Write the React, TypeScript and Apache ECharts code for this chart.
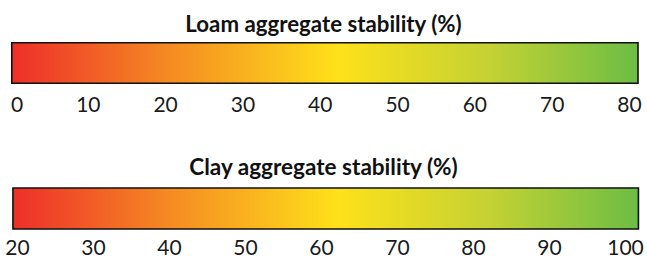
import React, { useEffect, useRef } from "react";
import * as echarts from "echarts";

const loamTitle = "Loam aggregate stability (%)";
const clayTitle = "Clay aggregate stability (%)";
const loamTicks = [0, 80];
const clayTicks = [20, 100];
const tickStep = 10;
// extent of the coloured bar, in axis units
const loamBar = [0.1, 81.1];
const clayBar = [19.4, 101.7];
const gradientStops = [
  { offset: 0, color: "#EE2E2A" },
  { offset: 0.25, color: "#F58A22" },
  { offset: 0.52, color: "#FEE11A" },
  { offset: 0.76, color: "#C5D233" },
  { offset: 1, color: "#6CBD45" },
];

const labelFont = "Lato, 'Open Sans', sans-serif";
const titleFontFamily = "Lato";
const titleFontSize = 22;

function measure(text: string, font: string): number {
  const c = document.createElement("canvas");
  const ctx = c.getContext("2d");
  if (!ctx) return 0;
  ctx.font = font;
  return ctx.measureText(text).width;
}

function barSeries(idx: number, range: number[]) {
  return {
    type: "custom",
    xAxisIndex: idx,
    yAxisIndex: idx,
    silent: true,
    data: [[range[0], range[1]]],
    renderItem: (params: any, api: any) => {
      const lo = api.value(0);
      const hi = api.value(1);
      const p1 = api.coord([lo, 1]);
      const p2 = api.coord([hi, 0]);
      return {
        type: "rect",
        shape: { x: p1[0], y: p1[1], width: p2[0] - p1[0], height: p2[1] - p1[1] },
        style: {
          fill: new echarts.graphic.LinearGradient(0, 0, 1, 0, gradientStops),
          stroke: "#111111",
          lineWidth: 1.6,
        },
      };
    },
  };
}

function xAxisOf(idx: number, ticks: number[], alignMin: boolean, margin: number) {
  return {
    type: "value",
    gridIndex: idx,
    min: ticks[0],
    max: ticks[1],
    interval: tickStep,
    axisLine: { show: false },
    axisTick: { show: false },
    splitLine: { show: false },
    axisLabel: {
      show: true,
      margin,
      fontSize: 21,
      lineHeight: 16,
      color: "#1a1a1a",
      fontFamily: labelFont,
      showMinLabel: true,
      showMaxLabel: true,
      ...(alignMin ? { alignMinLabel: "left" } : {}),
    },
  };
}

function titleText(text: string, y: number, targetWidth: number) {
  const font = `bold ${titleFontSize}px ${titleFontFamily}`;
  const w = measure(text, font);
  const sx = w > 0 ? targetWidth / w : 1;
  return {
    type: "text",
    x: 323.5,
    y,
    scaleX: sx,
    style: {
      text,
      fontFamily: titleFontFamily,
      fontSize: titleFontSize,
      fontWeight: "bold",
      fill: "#111111",
      textAlign: "center",
      textVerticalAlign: "middle",
    },
  };
}

export default function App() {
  const ref = useRef<HTMLDivElement>(null);
  useEffect(() => {
    if (!ref.current) return;
    const chart = echarts.init(ref.current, undefined, { renderer: "svg" });
    chart.setOption({
      animation: false,
      backgroundColor: "#ffffff",
      graphic: [titleText(loamTitle, 23.5, 277), titleText(clayTitle, 166.3, 270)],
      grid: [
        { left: 11, right: 17.5, top: 42.8, height: 40.5 },
        { left: 17.5, right: 21.5, top: 188, height: 41 },
      ],
      xAxis: [xAxisOf(0, loamTicks, true, 12), xAxisOf(1, clayTicks, false, 9.3)],
      yAxis: [
        { type: "value", gridIndex: 0, min: 0, max: 1, show: false },
        { type: "value", gridIndex: 1, min: 0, max: 1, show: false },
      ],
      series: [barSeries(0, loamBar), barSeries(1, clayBar)],
    });
    return () => chart.dispose();
  }, []);
  return (
    <div
      ref={ref}
      style={{ position: "fixed", left: 0, top: 0, width: 647, height: 259 }}
    />
  );
}
